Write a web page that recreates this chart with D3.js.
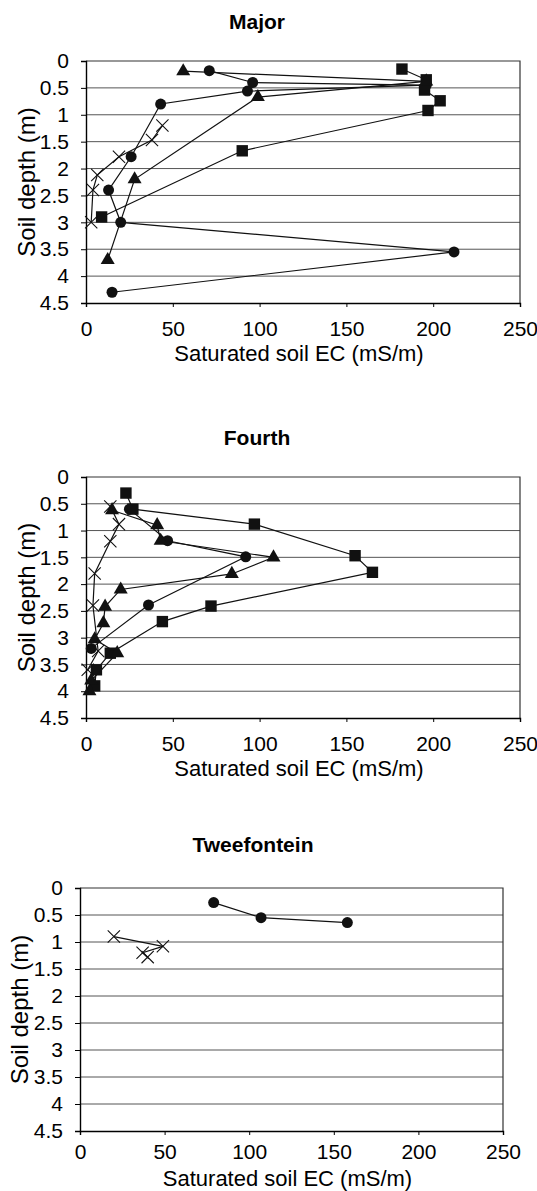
<!DOCTYPE html>
<html>
<head>
<meta charset="utf-8">
<script src="https://cdn.jsdelivr.net/npm/d3@7"></script>
<style>
  body { margin: 0; background: #fff; }
  svg { font-family: "Liberation Sans", Arial, sans-serif; }
</style>
</head>
<body>
<div id="chart"></div>
<script>
// values: [EC (mS/m), depth (m)]
var depthTicks = [0, 0.5, 1, 1.5, 2, 2.5, 3, 3.5, 4, 4.5];
var ecTicks = [0, 50, 100, 150, 200, 250];

var majorCircle = [[71, 0.18], [96, 0.4], [196, 0.45], [93, 0.56], [43, 0.8], [26, 1.78], [13, 2.4], [20, 3.0], [212, 3.55], [15, 4.3]];
var majorSquare = [[182, 0.15], [196, 0.35], [195, 0.54], [204, 0.74], [197, 0.92], [90, 1.67], [9, 2.9]];
var majorTriangle = [[56, 0.19], [196, 0.38], [99, 0.67], [28, 2.2], [12.5, 3.7]];
var majorCross = [[44, 1.2], [38, 1.47], [19, 1.78], [6.5, 2.12], [4, 2.4], [3, 3.0]];

var fourthCircle = [[25, 0.6], [47, 1.19], [92, 1.49], [36, 2.39], [3, 3.2]];
var fourthSquare = [[23, 0.3], [27, 0.6], [97, 0.88], [155, 1.47], [165, 1.78], [72, 2.41], [44, 2.7], [14, 3.29], [6, 3.6], [5, 3.9]];
var fourthTriangle = [[15, 0.62], [41, 0.9], [43, 1.19], [108, 1.5], [84, 1.81], [20, 2.1], [11, 2.42], [10, 2.73], [5, 3.03], [18, 3.29], [3, 3.8], [2, 4.0]];
var fourthCross = [[14, 0.55], [19, 0.88], [14, 1.2], [5, 1.8], [4, 2.4], [7, 3.25], [1, 3.6]];

var tweeCircle = [[79, 0.27], [107, 0.55], [158, 0.64]];
var tweeCross = [[20, 0.9], [49, 1.08], [37, 1.2], [40, 1.28]];

var panels = [
  { title: "Major", titleX: 257, titleY: 29, left: 86, right: 520, top: 61, bottom: 303, yTitleX: 27, xPad: 14, xTitleDy: 58,
    series: [[majorCircle, "circle"], [majorSquare, "square"], [majorTriangle, "triangle"], [majorCross, "cross"]] },
  { title: "Fourth", titleX: 257, titleY: 445, left: 86, right: 520, top: 477, bottom: 718, yTitleX: 27, xPad: 14, xTitleDy: 58,
    series: [[fourthCircle, "circle"], [fourthSquare, "square"], [fourthTriangle, "triangle"], [fourthCross, "cross"]] },
  { title: "Tweefontein", titleX: 253, titleY: 852, left: 80, right: 503, top: 888, bottom: 1131, yTitleX: 20, xPad: 9, xTitleDy: 55,
    series: [[tweeCircle, "circle"], [tweeCross, "cross"]] }
];

var symbols = {
  circle: d3.symbol().type(d3.symbolCircle).size(95),
  square: d3.symbol().type(d3.symbolSquare).size(130),
  triangle: d3.symbol().type(d3.symbolTriangle).size(85),
  cross: d3.symbol().type(d3.symbolTimes).size(100)
};

var svg = d3.select("#chart")
  .append("svg")
  .attr("width", 537)
  .attr("height", 1191);

panels.forEach(function (p) {
  var g = svg.append("g");

  var x = d3.scaleLinear().domain([0, 250]).range([p.left, p.right]);
  var y = d3.scaleLinear().domain([0, 4.5]).range([p.top, p.bottom]);

  // title
  g.append("text")
    .attr("x", p.titleX)
    .attr("y", p.titleY)
    .attr("text-anchor", "middle")
    .style("font-size", "21px")
    .style("font-weight", "bold")
    .text(p.title);

  // horizontal gridlines
  g.append("g")
    .selectAll("line")
    .data(depthTicks.slice(1, -1))
    .enter()
    .append("line")
    .attr("x1", p.left)
    .attr("x2", p.right)
    .attr("y1", function (d) { return y(d); })
    .attr("y2", function (d) { return y(d); })
    .style("stroke", "#555")
    .style("stroke-width", 1);

  // frame top and right
  g.append("path")
    .attr("d", "M" + p.left + "," + p.top + "H" + p.right + "V" + p.bottom)
    .style("fill", "none")
    .style("stroke", "#333")
    .style("stroke-width", 1.2);

  // Y axis
  var yAxis = g.append("g")
    .attr("transform", "translate(" + p.left + ",0)")
    .call(d3.axisLeft(y).tickValues(depthTicks).tickFormat(d3.format("")).tickSize(5).tickPadding(12));

  // X axis
  var xAxis = g.append("g")
    .attr("transform", "translate(0," + p.bottom + ")")
    .call(d3.axisBottom(x).tickValues(ecTicks).tickSize(4).tickPadding(p.xPad));

  [yAxis, xAxis].forEach(function (a) {
    a.select(".domain").style("stroke", "#000").style("stroke-width", 1.4);
    a.selectAll(".tick line").style("stroke", "#000");
    a.selectAll("text")
      .style("font-family", "'Liberation Sans', Arial, sans-serif")
      .style("font-size", "21px")
      .style("fill", "#000");
  });

  // axis titles
  g.append("text")
    .attr("text-anchor", "middle")
    .attr("transform", "translate(" + p.yTitleX + "," + ((p.top + p.bottom) / 2) + ") rotate(-90)")
    .attr("dy", "0.35em")
    .style("font-size", "24px")
    .text("Soil depth (m)");

  g.append("text")
    .attr("x", (p.left + p.right) / 2 - 4)
    .attr("y", p.bottom + p.xTitleDy)
    .attr("text-anchor", "middle")
    .style("font-size", "22px")
    .text("Saturated soil EC (mS/m)");

  var line = d3.line()
    .x(function (d) { return x(d[0]); })
    .y(function (d) { return y(d[1]); });

  p.series.forEach(function (s) {
    var data = s[0], shape = s[1];
    g.append("path")
      .datum(data)
      .attr("d", line)
      .style("fill", "none")
      .style("stroke", "#111")
      .style("stroke-width", 1.2);

    g.append("g")
      .selectAll("path")
      .data(data)
      .enter()
      .append("path")
      .attr("transform", function (d) { return "translate(" + x(d[0]) + "," + y(d[1]) + ")"; })
      .attr("d", symbols[shape])
      .style("fill", shape === "cross" ? "none" : "#111")
      .style("stroke", "#111")
      .style("stroke-width", shape === "cross" ? 1.1 : 0);
  });
});
</script>
</body>
</html>
